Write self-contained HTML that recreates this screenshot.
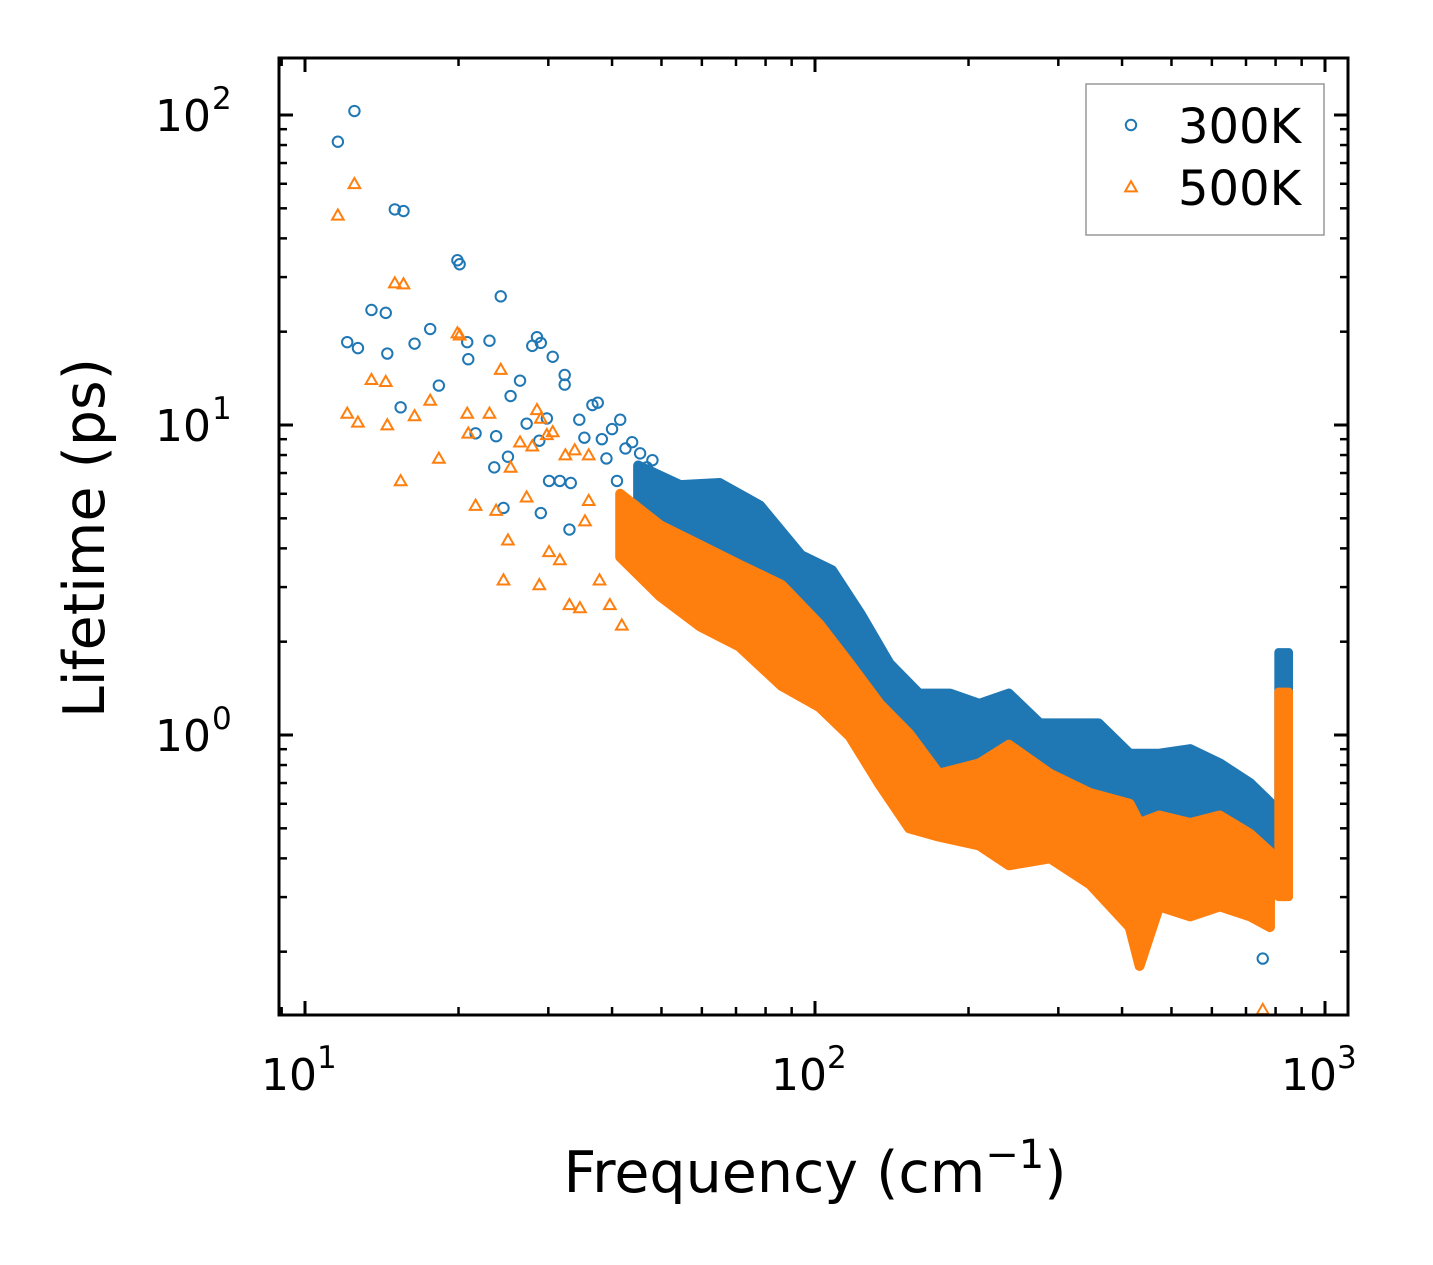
<!DOCTYPE html>
<html><head><meta charset="utf-8">
<style>
html,body{margin:0;padding:0;background:#fff;}
svg{display:block;font-family:"DejaVu Sans","Liberation Sans",sans-serif;}
</style></head>
<body>
<svg id="chart" width="1433" height="1265" viewBox="0 0 1433 1265" xmlns="http://www.w3.org/2000/svg">
<rect width="1433" height="1265" fill="#fff"/>
<defs><clipPath id="plotclip"><rect x="279" y="58" width="1069" height="957"/></clipPath></defs>
<g id="marks" clip-path="url(#plotclip)"></g>
<g id="axes"></g>
</svg>
<script>
// Sparse scatter points [frequency cm^-1, lifetime ps]
const blueFreq = [11.6,12.5,12.1,12.7,13.5,14.4,14.5,15.0,15.6,15.4,16.4,17.6,18.3,19.9,20.1,20.8,20.9,21.6,23.5,23.0,23.7,24.2,24.5,25.0,25.3,26.4,27.2,27.9,28.5,29.0,28.8,29.0,29.8,30.6,30.1,31.6,32.3,32.3,33.2,33.0,34.5,35.3,36.6,37.5,38.2,39.0,40.0,41.5,40.9,42.5,43.8,45.4,46.8,48.0,755];
const blueLife = [82,103,18.5,17.7,23.5,23,17,49.6,49,11.4,18.3,20.4,13.4,34,33,18.5,16.3,9.4,7.3,18.7,9.2,26,5.4,7.9,12.4,13.9,10.1,18,19.2,18.4,8.9,5.2,10.5,16.6,6.6,6.6,13.5,14.5,6.5,4.6,10.4,9.1,11.6,11.8,9.0,7.8,9.7,10.4,6.6,8.4,8.8,8.1,7.3,7.7,0.19];
const orangeFreq = [11.6,12.5,12.1,12.7,13.5,14.4,14.5,15.0,15.6,15.4,16.4,17.6,18.3,19.9,20.1,20.8,20.9,21.6,23.0,23.7,24.2,24.5,25.0,25.3,26.4,27.2,27.9,28.5,29.0,28.8,29.8,30.6,30.1,31.6,32.4,33.0,34.6,35.4,36.0,37.8,39.6,41.8,36.0,33.8,755];
const orangeLife = [47.5,60,10.9,10.2,14,13.8,10,28.7,28.5,6.6,10.7,12,7.8,19.8,19.5,10.9,9.4,5.5,10.9,5.3,15.1,3.16,4.25,7.3,8.8,5.85,8.55,11.2,10.5,3.05,9.3,9.5,3.9,3.67,8,2.63,2.57,4.9,5.7,3.16,2.63,2.26,8,8.3,0.13];
// Dense point-cloud envelopes: frequency, upper and lower lifetime
const blueBandFreq = [45,54.4,65,78,94,108,123,140,160,184,210,240,276,315,360,414,473,544,622,713,785];
const blueBandHigh = [7.4,6.4,6.5,5.5,3.8,3.4,2.45,1.7,1.36,1.36,1.26,1.36,1.09,1.09,1.09,0.87,0.87,0.9,0.81,0.7,0.6];
const blueBandLow  = [5.4,4.35,3.9,3.25,2.42,1.93,1.44,1.07,0.85,0.79,0.79,0.74,0.69,0.64,0.55,0.4,0.5,0.5,0.47,0.44,0.4];
const orangeBandFreq = [41.5,49.7,59.5,71,86,102,117,134,153,175,210,240,289,346,414,433,473,544,622,713,780];
const orangeBandHigh = [6.0,4.75,4.1,3.55,3.05,2.28,1.7,1.26,1.01,0.75,0.81,0.93,0.75,0.65,0.6,0.52,0.55,0.52,0.55,0.48,0.42];
const orangeBandLow  = [3.75,2.8,2.24,1.93,1.44,1.23,0.99,0.69,0.5,0.47,0.44,0.38,0.4,0.33,0.24,0.18,0.28,0.26,0.28,0.26,0.24];
const spikeFreq = [810,850];
const blueSpike = [1.85,0.35];
const orangeSpike = [1.38,0.3];
const xTicks = [10,100,1000];
const xTickExp = ["1","2","3"];
const yTicks = [1,10,100];
const yTickExp = ["0","1","2"];

const NS="http://www.w3.org/2000/svg";
const L=279,R=1348,T=58,B=1015;
const X=f=>305+510*Math.log10(f/10);
const Y=v=>735-310*Math.log10(v);
const BLUE="#1f77b4",ORANGE="#ff7f0e";
const marks=document.getElementById('marks');
const axes=document.getElementById('axes');
function mk(tag,attrs,parent){const e=document.createElementNS(NS,tag);for(const k in attrs)e.setAttribute(k,attrs[k]);parent.appendChild(e);return e;}

function band(freq,hi,lo,color,name){
  const pts=[];
  for(let i=0;i<freq.length;i++)pts.push(X(freq[i])+','+Y(hi[i]));
  for(let i=freq.length-1;i>=0;i--)pts.push(X(freq[i])+','+Y(lo[i]));
  const p=mk('polygon',{points:pts.join(' '),fill:color,stroke:color,'stroke-width':10,'stroke-linejoin':'round'},marks);
  
  
}
function spike(vals,color,name){
  const r=mk('rect',{x:X(spikeFreq[0]),y:Y(vals[0]),width:X(spikeFreq[1])-X(spikeFreq[0]),height:Y(vals[1])-Y(vals[0]),fill:color,stroke:color,'stroke-width':8,'stroke-linejoin':'round'},marks);
  
  
}
function circle(cx,cy,parent){
  const c=mk('circle',{cx:cx,cy:cy,r:5.2,fill:'none',stroke:BLUE,'stroke-width':2},parent);
  
  
}
function tri(cx,cy,parent){
  const s=5.8;
  const t=mk('polygon',{points:`${cx},${cy-s} ${cx-s},${cy+s*0.75} ${cx+s},${cy+s*0.75}`,fill:'none',stroke:ORANGE,'stroke-width':2},parent);
  
  
}

band(blueBandFreq,blueBandHigh,blueBandLow,BLUE,'band-300k');
spike(blueSpike,BLUE,'spike-300k');
for(let i=0;i<blueFreq.length;i++)circle(X(blueFreq[i]),Y(blueLife[i]),marks);
band(orangeBandFreq,orangeBandHigh,orangeBandLow,ORANGE,'band-500k');
spike(orangeSpike,ORANGE,'spike-500k');
for(let i=0;i<orangeFreq.length;i++)tri(X(orangeFreq[i]),Y(orangeLife[i]),marks);

// frame
const fr=mk('rect',{x:L,y:T,width:R-L,height:B-T,fill:'none',stroke:'#000','stroke-width':3},axes);



// x ticks
for(let d=1;d<=1000;d*=10){
  for(let m=1;m<10;m++){
    const f=d*m; const x=X(f);
    if(x<L+1||x>R-1)continue;
    const len=(m===1)?14:8;
    mk('line',{x1:x,y1:B,x2:x,y2:B-len,stroke:'#000','stroke-width':(m===1)?3:2.5},axes);
    mk('line',{x1:x,y1:T,x2:x,y2:T+len,stroke:'#000','stroke-width':(m===1)?3:2.5},axes);
  }
}
for(let i=0;i<xTicks.length;i++){
  const t=mk('text',{x:X(xTicks[i])-16,y:1090,'font-size':44,'text-anchor':'middle',fill:'#000'},axes);
  t.textContent='10';
  
  
  const s=mk('text',{x:X(xTicks[i])+12,y:1068,'font-size':31,'text-anchor':'start',fill:'#000'},axes);
  s.textContent=xTickExp[i];
}
// y ticks
for(let d=0.1;d<=100;d*=10){
  for(let m=1;m<10;m++){
    const v=d*m; const y=Y(v);
    if(y<T+1||y>B-1)continue;
    const len=(m===1)?14:8;
    mk('line',{x1:L,y1:y,x2:L+len,y2:y,stroke:'#000','stroke-width':(m===1)?3:2.5},axes);
    mk('line',{x1:R,y1:y,x2:R-len,y2:y,stroke:'#000','stroke-width':(m===1)?3:2.5},axes);
  }
}
for(let i=0;i<yTicks.length;i++){
  const t=mk('text',{x:183,y:Y(yTicks[i])+16,'font-size':44,'text-anchor':'middle',fill:'#000'},axes);
  t.textContent='10';
  
  
  const s=mk('text',{x:212,y:Y(yTicks[i])-6,'font-size':31,fill:'#000'},axes);
  s.textContent=yTickExp[i];
}
// axis titles
const xt=mk('text',{x:815,y:1192,'font-size':57,'text-anchor':'middle',fill:'#000'},axes);
xt.innerHTML='Frequency (cm<tspan dy="-24" font-size="40">−1</tspan><tspan dy="24">)</tspan>';


const yt=mk('text',{x:0,y:0,'font-size':57,'text-anchor':'middle',fill:'#000',transform:'translate(104,538) rotate(-90)'},axes);
yt.textContent='Lifetime (ps)';



// legend
const lg=mk('g',{},axes);


mk('rect',{x:1086,y:84,width:238,height:151,fill:'#fff',stroke:'#999','stroke-width':1.5},lg);
circle(1131,125,lg);
tri(1131,187,lg);
const l1=mk('text',{x:1178,y:143,'font-size':48,fill:'#000'},lg);l1.textContent='300K';


const l2=mk('text',{x:1178,y:205,'font-size':48,fill:'#000'},lg);l2.textContent='500K';


</script>
</body></html>
